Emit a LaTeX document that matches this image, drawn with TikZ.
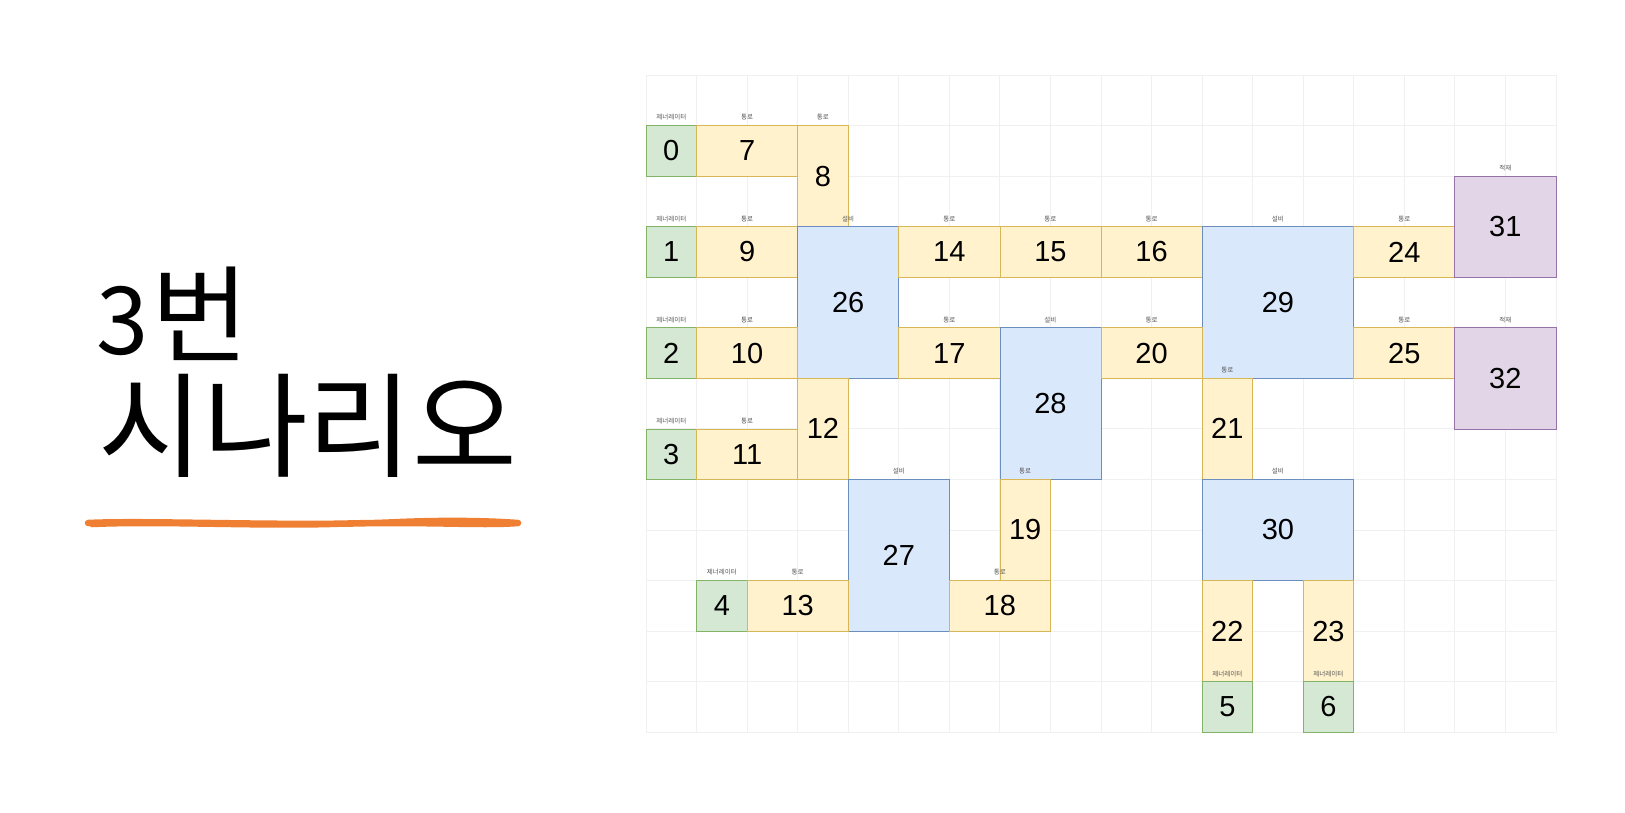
\documentclass[tikz,border=0pt]{standalone}
\usepackage{fontspec}
\setmainfont{Liberation Sans}
\newfontfamily\kr{Noto Sans CJK KR}
\definecolor{gfill}{HTML}{D5E8D4}\definecolor{gline}{HTML}{82B366}
\definecolor{yfill}{HTML}{FFF2CC}\definecolor{yline}{HTML}{D6B656}
\definecolor{bfill}{HTML}{DAE8FC}\definecolor{bline}{HTML}{6C8EBF}
\definecolor{pfill}{HTML}{E1D5E7}\definecolor{pline}{HTML}{9673A6}
\definecolor{gridc}{HTML}{F0F0F0}
\definecolor{labc}{HTML}{555555}
\definecolor{mark}{HTML}{EF8033}
\newcommand\blk[7]{%
  \node[#6, minimum width={#4*50.55pt}, minimum height={#5*50.55pt}, anchor=north west] (#1) at ({646+#2*50.55},{75+#3*50.55}) {#7};}
\newcommand\lbl[3]{\node[lab] (#1) at ([yshift=8pt]#2.north) {#3};}
\begin{document}
\begin{tikzpicture}[x=1pt,y=-1pt,
  cellbox/.style={draw, line width=0.7pt, inner sep=0pt, outer sep=0pt, font=\fontsize{29}{29}\selectfont, text=black},
  gen/.style={cellbox, fill=gfill, draw=gline},
  pas/.style={cellbox, fill=yfill, draw=yline},
  eqp/.style={cellbox, fill=bfill, draw=bline},
  ldg/.style={cellbox, fill=pfill, draw=pline},
  lab/.style={inner sep=0pt, text=labc, font=\kr\fontsize{6.5}{6.5}\selectfont},
  gridline/.style={draw=gridc, line width=0.8pt},
  title/.style={anchor=base west, inner sep=0pt},
  marker/.style={draw=mark, line width=6.5pt, line cap=round, line join=round}]
\useasboundingbox[fill=white] (0,0) rectangle (1625,813);
% grid
\foreach \i in {0,...,18} \draw[gridline] ({646+\i*50.55},75) -- ({646+\i*50.55},732.2);
\foreach \j in {0,...,13} \draw[gridline] (646,{75+\j*50.55}) -- (1555.9,{75+\j*50.55});
% title
\node[title, font=\kr\fontsize{106}{106}\selectfont] (t1) at (96,354) {{\fontsize{94}{94}\selectfont 3}\hspace{3pt}번};
\node[title, font=\kr\fontsize{114}{114}\selectfont] (t2) at (98,468) {시나리오};
\coordinate (u0) at (88,523);
\coordinate (u1) at (518,523);
\draw[marker] (u0) .. controls (150,520) and (300,527) .. (400,522)
  .. controls (450,520) and (490,521) .. (u1)
  .. controls (480,526) and (420,521) .. (330,524)
  .. controls (250,526) and (160,521) .. (92,524);
% boxes
\blk{n0}{0}{1}{1}{1}{gen}{0}
\blk{n7}{1}{1}{2}{1}{pas}{7}
\blk{n8}{3}{1}{1}{2}{pas}{8}
\blk{n1}{0}{3}{1}{1}{gen}{1}
\blk{n9}{1}{3}{2}{1}{pas}{9}
\blk{n26}{3}{3}{2}{3}{eqp}{26}
\blk{n14}{5}{3}{2}{1}{pas}{14}
\blk{n15}{7}{3}{2}{1}{pas}{15}
\blk{n16}{9}{3}{2}{1}{pas}{16}
\blk{n29}{11}{3}{3}{3}{eqp}{29}
\blk{n24}{14}{3}{2}{1}{pas}{24}
\blk{n31}{16}{2}{2}{2}{ldg}{31}
\blk{n2}{0}{5}{1}{1}{gen}{2}
\blk{n10}{1}{5}{2}{1}{pas}{10}
\blk{n17}{5}{5}{2}{1}{pas}{17}
\blk{n28}{7}{5}{2}{3}{eqp}{28}
\blk{n20}{9}{5}{2}{1}{pas}{20}
\blk{n25}{14}{5}{2}{1}{pas}{25}
\blk{n32}{16}{5}{2}{2}{ldg}{32}
\blk{n12}{3}{6}{1}{2}{pas}{12}
\blk{n3}{0}{7}{1}{1}{gen}{3}
\blk{n11}{1}{7}{2}{1}{pas}{11}
\blk{n21}{11}{6}{1}{2}{pas}{21}
\blk{n27}{4}{8}{2}{3}{eqp}{27}
\blk{n19}{7}{8}{1}{2}{pas}{19}
\blk{n30}{11}{8}{3}{2}{eqp}{30}
\blk{n4}{1}{10}{1}{1}{gen}{4}
\blk{n13}{2}{10}{2}{1}{pas}{13}
\blk{n18}{6}{10}{2}{1}{pas}{18}
\blk{n22}{11}{10}{1}{2}{pas}{22}
\blk{n23}{13}{10}{1}{2}{pas}{23}
\blk{n5}{11}{12}{1}{1}{gen}{5}
\blk{n6}{13}{12}{1}{1}{gen}{6}
% labels
\lbl{l0}{n0}{제너레이터}
\lbl{l7}{n7}{통로}
\lbl{l8}{n8}{통로}
\lbl{l1}{n1}{제너레이터}
\lbl{l9}{n9}{통로}
\lbl{l26}{n26}{설비}
\lbl{l14}{n14}{통로}
\lbl{l15}{n15}{통로}
\lbl{l16}{n16}{통로}
\lbl{l29}{n29}{설비}
\lbl{l24}{n24}{통로}
\lbl{l31}{n31}{적재}
\lbl{l2}{n2}{제너레이터}
\lbl{l10}{n10}{통로}
\lbl{l17}{n17}{통로}
\lbl{l28}{n28}{설비}
\lbl{l20}{n20}{통로}
\lbl{l25}{n25}{통로}
\lbl{l32}{n32}{적재}
\lbl{l3}{n3}{제너레이터}
\lbl{l11}{n11}{통로}
\lbl{l21}{n21}{통로}
\lbl{l27}{n27}{설비}
\lbl{l19}{n19}{통로}
\lbl{l30}{n30}{설비}
\lbl{l4}{n4}{제너레이터}
\lbl{l13}{n13}{통로}
\lbl{l18}{n18}{통로}
\lbl{l5}{n5}{제너레이터}
\lbl{l6}{n6}{제너레이터}
\end{tikzpicture}
\end{document}
